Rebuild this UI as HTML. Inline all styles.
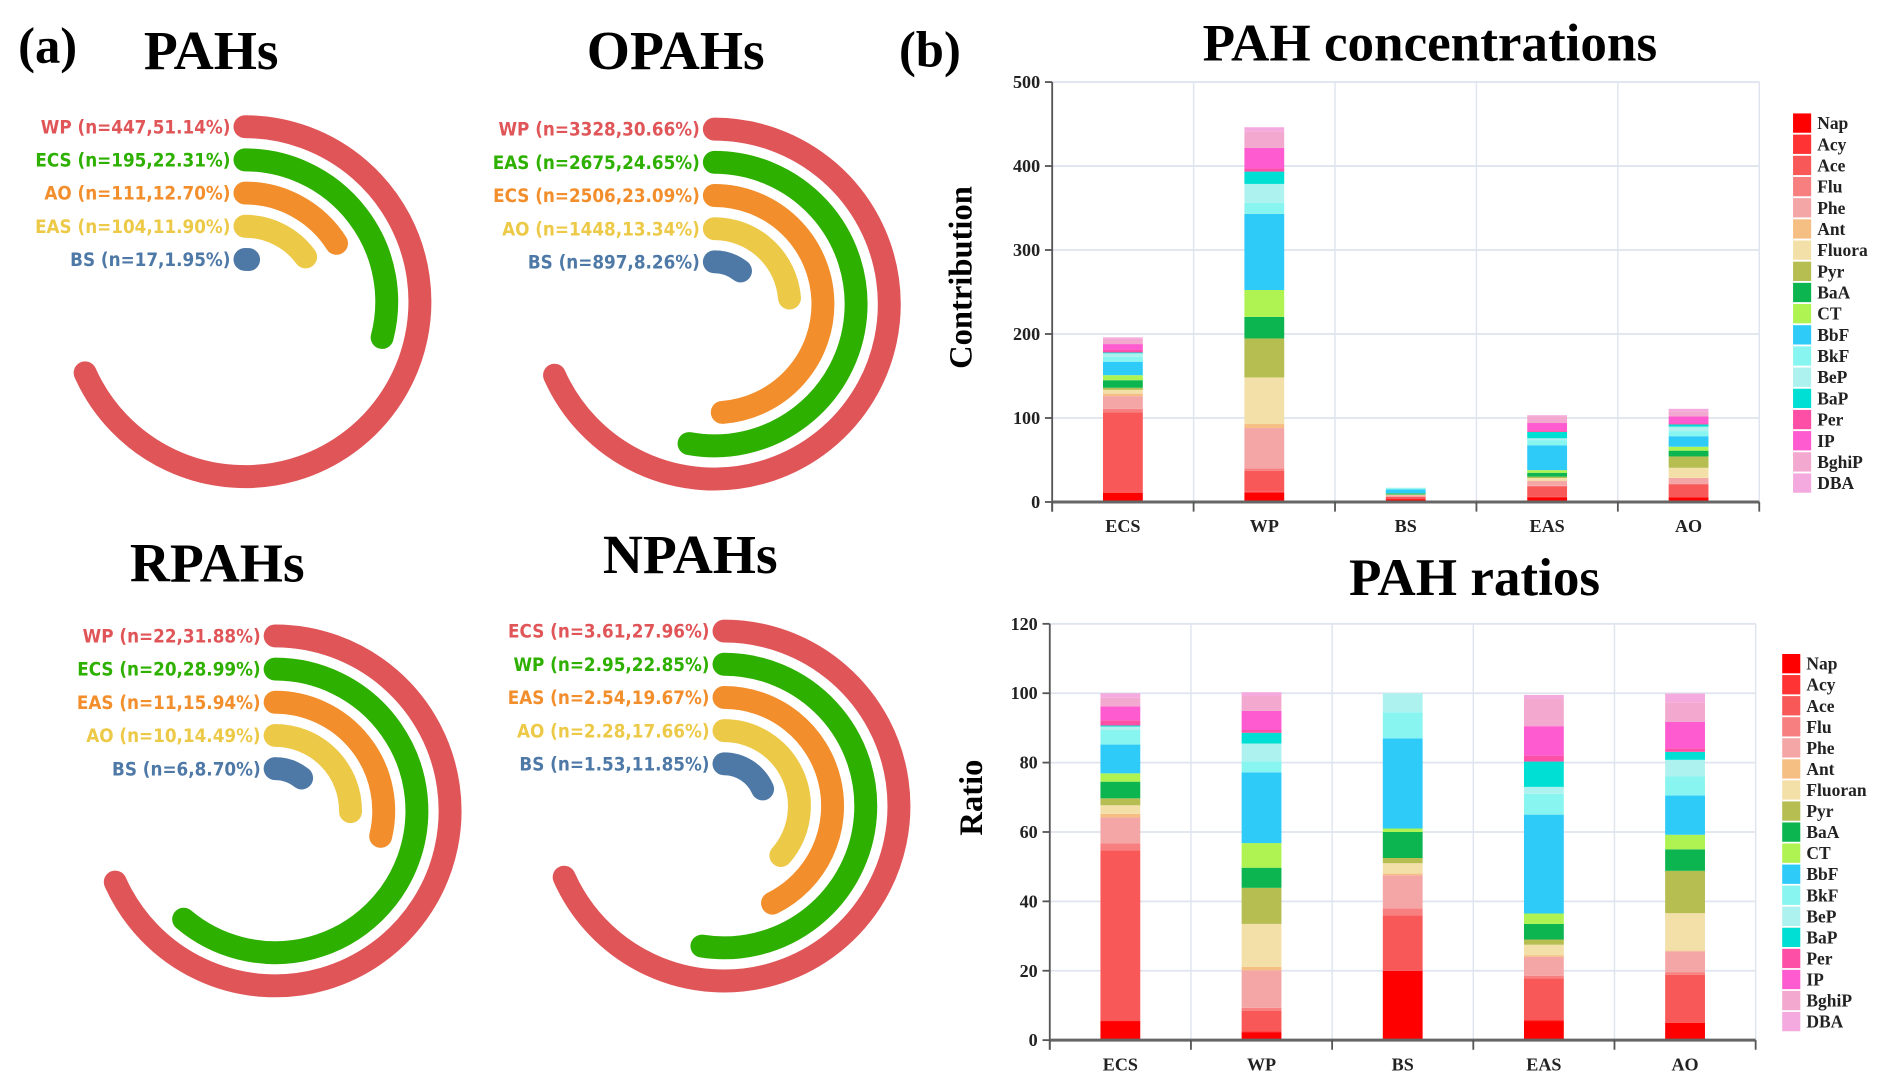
<!DOCTYPE html>
<html><head><meta charset="utf-8">
<style>
html,body{margin:0;padding:0;background:#fff;}
svg{display:block;}
.ttl{font-family:"Liberation Serif",serif;font-weight:bold;}
.lbl{font-family:"DejaVu Sans Condensed","DejaVu Sans",sans-serif;font-weight:bold;font-size:15.5px;font-stretch:condensed;}
.tick{font-family:"Liberation Serif",serif;font-weight:bold;font-size:15px;fill:#222;}
.leg{font-family:"Liberation Serif",serif;font-weight:bold;font-size:14.5px;fill:#222;}
</style></head>
<body>
<svg id="fig" width="1892" height="1089" viewBox="0 0 1568 902.5" xmlns="http://www.w3.org/2000/svg">
<text class="ttl" x="15" y="52" font-size="42">(a)</text>
<text class="ttl" x="745" y="55" font-size="42">(b)</text>
<g id="radials"></g>
<g id="conc"></g>
<g id="ratio"></g>
</svg>
<script>
// ---------- radial bar data ----------
const radialTitles = ["PAHs","OPAHs","RPAHs","NPAHs"];
const pahNames = ["WP","ECS","AO","EAS","BS"];
const pahN = ["447","195","111","104","17"];
const pahPct = [51.14,22.31,12.70,11.90,1.95];
const opahNames = ["WP","EAS","ECS","AO","BS"];
const opahN = ["3328","2675","2506","1448","897"];
const opahPct = [30.66,24.65,23.09,13.34,8.26];
const rpahNames = ["WP","ECS","EAS","AO","BS"];
const rpahN = ["22","20","11","10","6"];
const rpahPct = [31.88,28.99,15.94,14.49,8.70];
const npahNames = ["ECS","WP","EAS","AO","BS"];
const npahN = ["3.61","2.95","2.54","2.28","1.53"];
const npahPct = [27.96,22.85,19.67,17.66,11.85];

// ---------- stacked bar data ----------
const sites = ["ECS","WP","BS","EAS","AO"];
const compounds = ["Nap","Acy","Ace","Flu","Phe","Ant","Fluoran","Pyr","BaA","CT","BbF","BkF","BeP","BaP","Per","IP","BghiP","DBA"];
const concECS = [10.7,0.5,95.4,4.4,15,3,4.5,2.5,9,6,16,6,4,1,3,7,6.5,1.5];
const concWP  = [10.7,1.5,25,2.8,48,4.8,55.5,46.4,25.7,32,90.7,13,22.6,14.7,3.6,24.6,19.8,4.8];
const concBS  = [3.4,0,2.7,0.35,1.6,0.1,0.5,0.25,1.3,0.2,4.4,1.3,0.9,0,0,0,0,0];
const concEAS = [5.7,0.3,12.5,0.7,5.7,0.5,3.1,1.6,4.7,3.1,29.6,6.2,2.1,7.6,1.8,8.8,8.3,1.0];
const concAO  = [5.6,0.2,15.1,0.9,6.7,0.2,12.0,13.5,6.9,4.7,12.5,6.1,5.3,2.6,1.1,8.4,6.3,2.8];
const ratioECS = [5.5,0.2,49,2,7.5,1,2.5,2,4.8,2.4,8.3,4.2,1,0.3,1.5,4,2.5,1.3];
const ratioWP  = [2.2,0.4,5.9,0.8,10.8,1,12.4,10.4,5.8,7.1,20.4,3.2,5.1,3.1,0.8,5.5,4.3,1.1];
const ratioBS  = [20,0,16,2,9.5,0.5,3,1.5,7.5,1,26,7.5,5.5,0,0,0,0,0];
const ratioEAS = [5.5,0.3,12,0.7,5.5,0.5,3,1.5,4.5,3,28.5,6,2,7.3,1.7,8.5,8,1];
const ratioAO  = [5,0.2,13.6,0.8,6,0.2,10.8,12.2,6.2,4.2,11.3,5.5,4.8,2.3,1,7.6,5.7,2.5];
const concTicks = [0,100,200,300,400,500];
const ratioTicks = [0,20,40,60,80,100,120];

const NS="http://www.w3.org/2000/svg";
function mk(tag,attrs,parent){const e=document.createElementNS(NS,tag);for(const k in attrs)e.setAttribute(k,attrs[k]);parent.appendChild(e);return e;}

// ---------- radial bars ----------
const ringColors=["#e05558","#2db000","#f28e2b","#edc948","#4e79a7"];
const panels=[
 {names:pahNames,n:pahN,pct:pahPct,cx:203,cy:250,tx:175,ty:57},
 {names:opahNames,n:opahN,pct:opahPct,cx:592,cy:252,tx:560,ty:57},
 {names:rpahNames,n:rpahN,pct:rpahPct,cx:228,cy:672,tx:180,ty:482},
 {names:npahNames,n:npahN,pct:npahPct,cx:600,cy:668,tx:572,ty:475}
];
const rg=document.getElementById('radials');
panels.forEach((p,pi)=>{
  const g=mk('g',{},rg);
  
  
  const t=mk('text',{class:'ttl',x:p.tx,y:p.ty,'font-size':46,'text-anchor':'middle'},g);
  t.textContent=radialTitles[pi];
  
  
  const vmax=Math.max(...p.pct);
  const vmin=Math.min(...p.pct)*0.5;
  p.names.forEach((nm,i)=>{
    const r=145-i*27.5;
    const ang=Math.max(0.02,(p.pct[i]-vmin)/(vmax-vmin))*246*Math.PI/180;
    const x0=p.cx,y0=p.cy-r;
    const x1=p.cx+r*Math.sin(ang),y1=p.cy-r*Math.cos(ang);
    const large=ang>Math.PI?1:0;
    const path=mk('path',{d:`M${x0},${y0} A${r},${r} 0 ${large} 1 ${x1},${y1}`,fill:'none',stroke:ringColors[i],'stroke-width':19,'stroke-linecap':'round'},g);
    
    
    const lb=mk('text',{class:'lbl',x:p.cx-12,y:y0+5.5,'text-anchor':'end',fill:ringColors[i]},g);
    lb.textContent=`${nm} (n=${p.n[i]},${p.pct[i].toFixed(2)}%)`;
    
    
  });
});

// ---------- stacked bars ----------
const colors=["#ff0000","#ff3333","#f95858","#f77f7f","#f4a6a6","#f5bf84","#f3e0a8","#b6bd51","#0cb550","#aef352","#2ecbf8","#88f5f0","#adf2ef","#00dfd3","#fd4fa5","#ff5bd0","#f3a8cf","#f4aade"];
function stackChart(gid,series,ticks,cfg){
  const g=document.getElementById(gid);
  const {x0,x1,y0,y1}=cfg;
  const vmax=ticks[ticks.length-1];
  const ys=v=>y0-(v/vmax)*(y0-y1);
  const bw=(x1-x0)/sites.length;
  const xs=i=>x0+bw*(i+0.5);
  ticks.forEach(tv=>{
    if(tv>0){const l=mk('line',{x1:x0,x2:x1,y1:ys(tv),y2:ys(tv),stroke:'#dfe4ee','stroke-width':1.5},g);
      }
    mk('line',{x1:x0-6,x2:x0,y1:ys(tv),y2:ys(tv),stroke:'#555','stroke-width':1.5},g);
    const tx=mk('text',{class:'tick',x:x0-10,y:ys(tv)+5,'text-anchor':'end'},g);
    tx.textContent=tv;
    
    
  });
  for(let i=1;i<=sites.length;i++){
    const l=mk('line',{x1:x0+bw*i,x2:x0+bw*i,y1:y1,y2:y0,stroke:'#dfe4ee','stroke-width':1.2},g);
    
  }
  series.forEach((arr,si)=>{
    let acc=0;
    arr.forEach((v,ci)=>{
      if(v<=0)return;
      const r=mk('rect',{x:xs(si)-cfg.barW/2,y:ys(acc+v),width:cfg.barW,height:ys(acc)-ys(acc+v),fill:colors[ci]},g);
      
      
      acc+=v;
    });
  });
  const ya=mk('line',{x1:x0,x2:x0,y1:y1,y2:y0+8,stroke:'#555','stroke-width':1.5},g);
  
  const xa=mk('line',{x1:x0,x2:x1,y1:y0,y2:y0,stroke:'#666','stroke-width':2.5},g);
  
  for(let i=0;i<=sites.length;i++){mk('line',{x1:x0+bw*i,x2:x0+bw*i,y1:y0,y2:y0+8,stroke:'#555','stroke-width':1.5},g);}
  sites.forEach((s,i)=>{
    const t=mk('text',{class:'tick',x:xs(i),y:y0+25,'text-anchor':'middle'},g);
    t.textContent=s;
    
    
  });
  const tt=mk('text',{class:'ttl',x:cfg.tx,y:cfg.ty,'font-size':44,'text-anchor':'middle'},g);
  tt.textContent=cfg.title;
  
  
  const yt=mk('text',{class:'ttl','font-size':27,'text-anchor':'middle',transform:`translate(${cfg.ytx},${cfg.yty}) rotate(-90)`},g);
  yt.textContent=cfg.ytitle;
  
  
  compounds.forEach((c,ci)=>{
    const ly=cfg.ly+ci*cfg.ls;
    const sw=mk('rect',{x:cfg.lx,y:ly-8,width:15,height:16,fill:colors[ci]},g);
    
    
    const lt=mk('text',{class:'leg',x:cfg.lx+20,y:ly+5},g);
    lt.textContent=(c==='Fluoran'?cfg.fluor:c);
    
    
  });
}
stackChart('conc',[concECS,concWP,concBS,concEAS,concAO],concTicks,
 {x0:872,x1:1458,y0:416,y1:68,barW:33,tx:1185,ty:50,title:'PAH concentrations',ytitle:'Contribution',ytx:805,yty:230,lx:1486,ly:102,ls:17.55,fluor:'Fluora'});
stackChart('ratio',[ratioECS,ratioWP,ratioBS,ratioEAS,ratioAO],ratioTicks,
 {x0:870,x1:1455,y0:862,y1:517,barW:33,tx:1222,ty:493,title:'PAH ratios',ytitle:'Ratio',ytx:814,yty:661,lx:1477,ly:550,ls:17.45,fluor:'Fluoran'});
</script>
</body></html>
